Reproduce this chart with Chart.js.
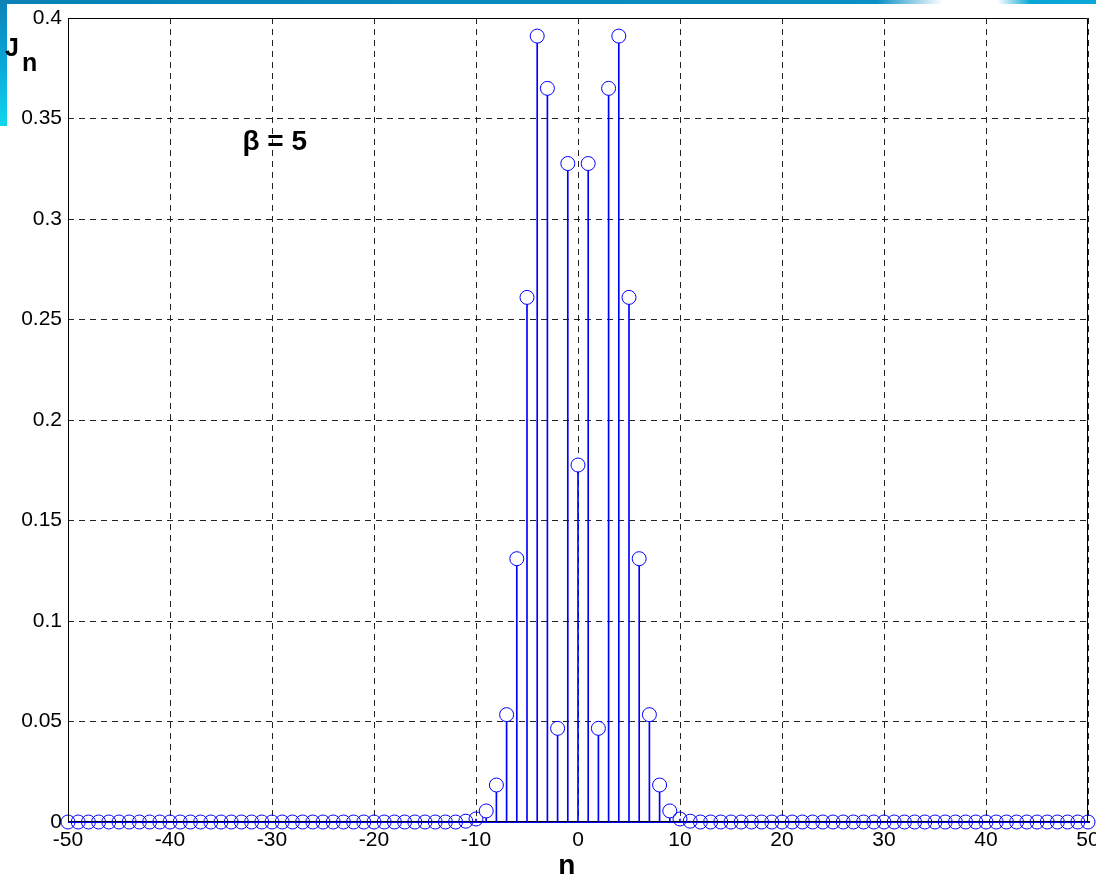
<!DOCTYPE html>
<html>
<head>
<meta charset="utf-8">
<script src="https://cdn.jsdelivr.net/npm/chart.js@4"></script>
<style>
    html, body { margin: 0; padding: 0; background: #fff; }
    #wrap { position: relative; width: 1096px; height: 880px; overflow: hidden; }
    #topBand { position: absolute; left: 0; top: 0; width: 1096px; height: 4px;
        background: linear-gradient(to right, #0a82b6 0%, #0a90c4 80%, #ffffff 86%, #ffffff 91%, #0aa6d6 94%, #0aa8d8 100%); }
    #leftBand { position: absolute; left: 0; top: 0; width: 7px; height: 126px;
        background: linear-gradient(to bottom, #0a82b6 0%, #0aa6d8 50%, #10d6ee 100%); }
    canvas { position: absolute; left: 0; top: 0; }
</style>
</head>
<body>
<div id="wrap">
    <div id="topBand"></div>
    <div id="leftBand"></div>
    <canvas id="chart__bessel" width="1096" height="880"></canvas>
</div>
<script>
// n values (order of the Bessel function)
const nValues = [
    -50, -49, -48, -47, -46, -45, -44, -43, -42, -41,
    -40, -39, -38, -37, -36, -35, -34, -33, -32, -31,
    -30, -29, -28, -27, -26, -25, -24, -23, -22, -21,
    -20, -19, -18, -17, -16, -15, -14, -13, -12, -11,
    -10, -9, -8, -7, -6, -5, -4, -3, -2, -1,
    0,
    1, 2, 3, 4, 5, 6, 7, 8, 9, 10,
    11, 12, 13, 14, 15, 16, 17, 18, 19, 20,
    21, 22, 23, 24, 25, 26, 27, 28, 29, 30,
    31, 32, 33, 34, 35, 36, 37, 38, 39, 40,
    41, 42, 43, 44, 45, 46, 47, 48, 49, 50
];

// |Jn(5)|
const jnValues = [
    0, 0, 0, 0, 0, 0, 0, 0, 0, 0,
    0, 0, 0, 0, 0, 0, 0, 0, 0, 0,
    0, 0, 0, 0, 0, 0, 0, 0, 0, 0,
    0, 0, 0, 0, 0, 0, 0, 0, 0, 0.0004,
    0.0015, 0.0055, 0.0184, 0.0534, 0.131, 0.261, 0.391, 0.365, 0.0466, 0.3276,
    0.1776,
    0.3276, 0.0466, 0.365, 0.391, 0.261, 0.131, 0.0534, 0.0184, 0.0055, 0.0015,
    0.0004, 0, 0, 0, 0, 0, 0, 0, 0, 0,
    0, 0, 0, 0, 0, 0, 0, 0, 0, 0,
    0, 0, 0, 0, 0, 0, 0, 0, 0, 0,
    0, 0, 0, 0, 0, 0, 0, 0, 0, 0
];

const xTicks = [-50, -40, -30, -20, -10, 0, 10, 20, 30, 40, 50];
const yTicks = [0, 0.05, 0.1, 0.15, 0.2, 0.25, 0.3, 0.35, 0.4];

const betaLabel = 'β = 5';
const xLabel = 'n';
const yLabelMain = 'J';
const yLabelSub = 'n';

const stemColor = '#0000ff';
const tickFont = { family: 'Liberation Sans, Arial', size: 21 };

const points = nValues.map((n, i) => ({ x: n, y: jnValues[i] }));

const annotations = {
    id: 'annotations',
    beforeDatasetsDraw (chart) {
        // stem baseline at y = 0
        const ctx = chart.ctx;
        const xs = chart.scales.x;
        const y0 = Math.round(chart.scales.y.getPixelForValue(0)) + 0.5;
        ctx.save();
        ctx.strokeStyle = '#000';
        ctx.lineWidth = 1;
        ctx.beginPath();
        ctx.moveTo(xs.getPixelForValue(-50), y0 - 1);
        ctx.lineTo(xs.getPixelForValue(50) + 2, y0 - 1);
        ctx.stroke();
        ctx.strokeStyle = stemColor;
        ctx.beginPath();
        ctx.moveTo(xs.getPixelForValue(-50), y0);
        ctx.lineTo(xs.getPixelForValue(50) + 2, y0);
        ctx.stroke();
        ctx.restore();
    },
    afterDraw (chart) {
        const ctx = chart.ctx;
        const area = chart.chartArea;
        const xs = chart.scales.x;
        const ys = chart.scales.y;
        ctx.save();
        // solid box around the axes
        ctx.strokeStyle = '#000';
        ctx.lineWidth = 1;
        ctx.setLineDash([]);
        ctx.beginPath();
        ctx.moveTo(area.left + 0.5, area.bottom);
        ctx.lineTo(area.left + 0.5, area.top + 0.5);
        ctx.lineTo(area.right - 0.5, area.top + 0.5);
        ctx.lineTo(area.right - 0.5, area.bottom);
        ctx.stroke();

        ctx.fillStyle = '#000';
        ctx.textBaseline = 'middle';
        ctx.textAlign = 'left';
        ctx.font = 'bold 28px Liberation Sans, Arial';
        ctx.fillText(betaLabel, xs.getPixelForValue(-32.9), ys.getPixelForValue(0.338));

        ctx.textAlign = 'center';
        ctx.font = 'bold 28px Liberation Sans, Arial';
        ctx.fillText(xLabel, xs.getPixelForValue(-1.1), area.bottom + 44);

        ctx.textAlign = 'left';
        ctx.textBaseline = 'alphabetic';
        ctx.font = 'bold 25px Liberation Sans, Arial';
        ctx.fillText(yLabelMain, 5, 56);
        ctx.fillText(yLabelSub, 22, 71);
        ctx.restore();
    }
};

new Chart(document.getElementById('chart__bessel'), {
    type: 'bar',
    data: {
        datasets: [
            {
                type: 'scatter',
                data: points,
                showLine: false,
                pointStyle: 'circle',
                pointRadius: 7,
                pointHoverRadius: 7,
                pointBorderWidth: 1,
                pointBorderColor: stemColor,
                pointBackgroundColor: c => (c.raw && c.raw.y > 0.002) ? '#ffffff' : 'rgba(0,0,0,0)',
                clip: false,
                order: 0
            },
            {
                type: 'bar',
                data: points,
                backgroundColor: stemColor,
                borderWidth: 0,
                barThickness: 1,
                order: 1
            }
        ]
    },
    options: {
        responsive: false,
        devicePixelRatio: 1,
        animation: false,
        events: [],
        layout: { padding: { left: 0, top: 18, right: 1, bottom: 0 } },
        plugins: {
            legend: { display: false },
            tooltip: { enabled: false }
        },
        scales: {
            x: {
                type: 'linear',
                min: -50,
                max: 50,
                offset: false,
                afterFit (scale) {
                    scale.height = 58;
                    scale.paddingLeft = 0;
                    scale.paddingRight = 0;
                },
                afterBuildTicks (scale) { scale.ticks = xTicks.map(v => ({ value: v })); },
                ticks: {
                    color: '#000',
                    font: tickFont,
                    padding: 6,
                    maxRotation: 0,
                    autoSkip: false,
                    callback: v => String(v)
                },
                grid: {
                    offset: false,
                    color: '#222',
                    lineWidth: 1,
                    drawTicks: false
                },
                border: { display: false, dash: [6, 5] }
            },
            y: {
                min: 0,
                max: 0.4,
                afterFit (scale) {
                    scale.width = 68;
                    scale.paddingTop = 0;
                    scale.paddingBottom = 0;
                },
                afterBuildTicks (scale) { scale.ticks = yTicks.map(v => ({ value: v })); },
                ticks: {
                    color: '#000',
                    font: tickFont,
                    padding: 6,
                    autoSkip: false,
                    callback: v => String(+v.toFixed(2))
                },
                grid: {
                    color: '#222',
                    lineWidth: 1,
                    drawTicks: false
                },
                border: { display: false, dash: [6, 5] }
            }
        }
    },
    plugins: [annotations]
});
</script>
</body>
</html>
